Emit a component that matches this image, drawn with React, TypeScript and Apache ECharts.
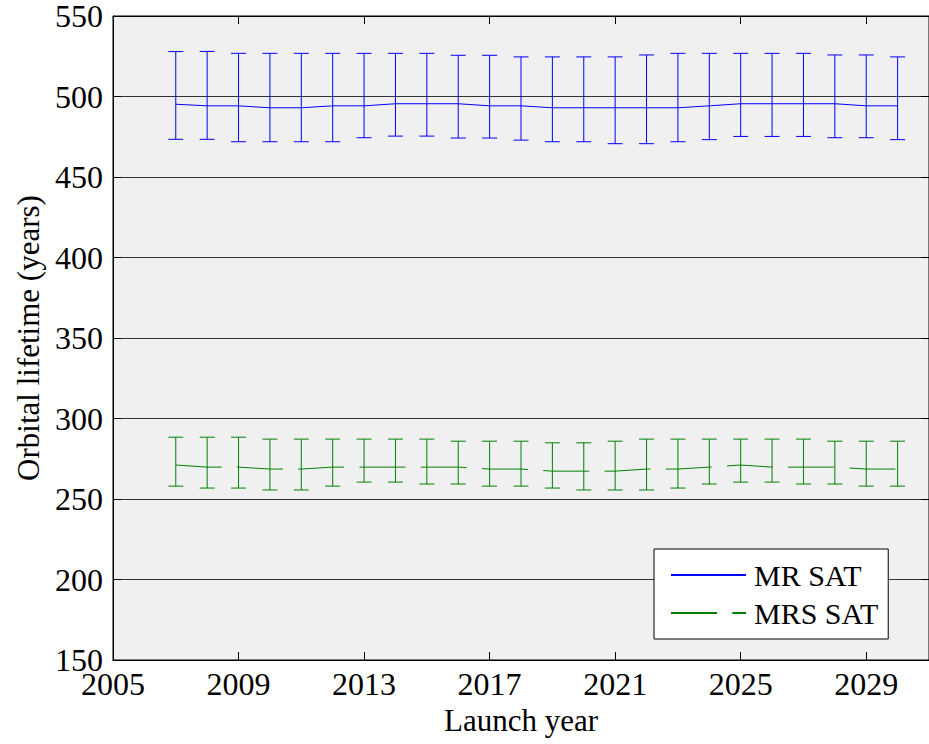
import React, { useEffect, useRef } from "react";
import * as echarts from "echarts";

const years = [2007, 2008, 2009, 2010, 2011, 2012, 2013, 2014, 2015, 2016, 2017, 2018, 2019, 2020, 2021, 2022, 2023, 2024, 2025, 2026, 2027, 2028, 2029, 2030];

const mrMean = [495.2, 494.2, 494.2, 493.0, 493.0, 494.2, 494.2, 495.5, 495.5, 495.5, 494.2, 494.2, 493.0, 493.0, 493.0, 493.0, 493.0, 494.2, 495.5, 495.5, 495.5, 495.5, 494.2, 494.2];
const mrUpper = [527.9, 528.0, 526.8, 526.8, 526.8, 526.8, 526.8, 526.8, 526.8, 525.6, 525.6, 524.6, 524.6, 524.6, 524.6, 525.8, 526.8, 526.8, 526.8, 526.8, 526.8, 525.8, 525.8, 524.6];
const mrLower = [473.4, 473.4, 471.9, 471.9, 471.9, 471.9, 474.4, 475.4, 475.4, 474.2, 474.2, 472.9, 471.9, 471.9, 470.7, 470.7, 471.9, 473.2, 475.2, 475.2, 475.2, 474.4, 474.4, 473.2];

const mrsMean = [271.1, 269.8, 269.8, 268.6, 268.6, 269.8, 269.8, 269.8, 269.8, 269.8, 268.6, 268.6, 267.3, 267.3, 267.3, 268.6, 268.6, 269.8, 271.1, 269.8, 269.8, 269.8, 268.6, 268.6];
const mrsUpper = [288.4, 288.4, 288.4, 287.2, 287.2, 287.2, 287.2, 287.2, 287.2, 285.9, 285.9, 285.9, 284.9, 284.9, 285.9, 287.2, 287.2, 287.2, 287.2, 287.2, 287.2, 285.9, 285.9, 285.9];
const mrsLower = [258.0, 256.8, 256.8, 255.6, 255.6, 258.0, 260.5, 260.5, 259.3, 259.3, 258.0, 258.0, 256.8, 255.6, 255.6, 255.6, 256.8, 259.3, 260.5, 260.5, 259.3, 259.3, 258.0, 258.0];

const xTicks = [2005, 2009, 2013, 2017, 2021, 2025, 2029];
const seriesNames = ["MR SAT", "MRS SAT"];
const xLabel = "Launch year";
const yLabel = "Orbital lifetime (years)";

const FONT = "'Liberation Serif', 'Times New Roman', 'DejaVu Serif', serif";
const BLUE = "#0000FF";
const GREEN = "#008000";

function errorSeries(name: string, lower: number[], upper: number[], color: string) {
  const data = years.map((y, i) => [y, lower[i], upper[i]]);
  return {
    type: "custom",
    name,
    xAxisIndex: 0,
    yAxisIndex: 0,
    data,
    encode: { x: 0, y: [1, 2] },
    renderItem: (params: any, api: any) => {
      const x = api.value(0);
      const lo = api.coord([x, api.value(1)]);
      const hi = api.coord([x, api.value(2)]);
      const hw = 7.5;
      const style = { stroke: color, lineWidth: 1 };
      return {
        type: "group",
        children: [
          { type: "line", shape: { x1: lo[0], y1: lo[1], x2: hi[0], y2: hi[1] }, style },
          { type: "line", shape: { x1: lo[0] - hw, y1: lo[1], x2: lo[0] + hw, y2: lo[1] }, style },
          { type: "line", shape: { x1: hi[0] - hw, y1: hi[1], x2: hi[0] + hw, y2: hi[1] }, style },
        ],
      };
    },
    silent: true,
    z: 3,
  };
}

export default function App() {
  const ref = useRef<HTMLDivElement>(null);
  useEffect(() => {
    if (!ref.current) return;
    const chart = echarts.init(ref.current, null, { renderer: "svg" });
    const axisText = { fontFamily: FONT, color: "#000" };
    const fmt = (v: number) => String(v);
    chart.setOption({
      animation: false,
      backgroundColor: "#fff",
      textStyle: { fontFamily: FONT },
      grid: {
        left: 113,
        top: 15,
        width: 817,
        height: 645,
        show: true,
        backgroundColor: "#F0F0F0",
        borderColor: "#000",
        borderWidth: 1,
      },
      legend: {
        orient: "vertical",
        left: 654,
        top: 549,
        data: seriesNames,
        itemWidth: 75,
        itemHeight: 14,
        itemGap: 6,
        padding: [10, 10, 10, 16],
        backgroundColor: "#fff",
        borderColor: "#000",
        borderWidth: 1,
        borderRadius: 0,
        itemStyle: { opacity: 0, borderWidth: 0 },
        textStyle: { fontFamily: FONT, fontSize: 30, color: "#000", lineHeight: 32, padding: [0, 0, 0, 3] },
      },
      xAxis: [
        {
          type: "value",
          min: 2005,
          max: 2031,
          position: "bottom",
          axisLine: { show: true, lineStyle: { color: "#000", width: 1 } },
          axisTick: { show: true, inside: true, length: 8, customValues: xTicks, lineStyle: { color: "#000" } },
          axisLabel: { customValues: xTicks, fontSize: 32, margin: 8, formatter: fmt, ...axisText },
          splitLine: { show: false },
          name: xLabel,
          nameLocation: "middle",
          nameGap: 44,
          nameTextStyle: { fontSize: 31, ...axisText },
        },
        {
          type: "value",
          min: 2005,
          max: 2031,
          position: "top",
          axisLine: { show: true, lineStyle: { color: "#000", width: 1 } },
          axisTick: { show: true, inside: true, length: 8, customValues: xTicks, lineStyle: { color: "#000" } },
          axisLabel: { show: false },
          splitLine: { show: false },
        },
      ],
      yAxis: [
        {
          type: "value",
          min: 150,
          max: 550,
          interval: 50,
          position: "left",
          axisLine: { show: true, lineStyle: { color: "#000", width: 1 } },
          axisTick: { show: true, inside: true, length: 8, lineStyle: { color: "#000" } },
          axisLabel: { fontSize: 32, margin: 10, formatter: fmt, ...axisText },
          splitLine: { show: true, lineStyle: { color: "#333", width: 1 } },
          name: yLabel,
          nameLocation: "middle",
          nameGap: 64,
          nameTextStyle: { fontSize: 31, ...axisText },
        },
        {
          type: "value",
          min: 150,
          max: 550,
          interval: 50,
          position: "right",
          axisLine: { show: true, lineStyle: { color: "#000", width: 1 } },
          axisTick: { show: true, inside: true, length: 8, lineStyle: { color: "#000" } },
          axisLabel: { show: false },
          splitLine: { show: false },
        },
      ],
      series: [
        {
          type: "line",
          name: seriesNames[0],
          data: years.map((y, i) => [y, mrMean[i]]),
          symbol: "none",
          color: BLUE,
          lineStyle: { color: BLUE, width: 1, type: "solid" },
          z: 4,
        },
        {
          type: "line",
          name: seriesNames[1],
          data: years.map((y, i) => [y, mrsMean[i]]),
          symbol: "none",
          color: GREEN,
          lineStyle: { color: GREEN, width: 1, type: [46, 15.3], dashOffset: 0 },
          z: 4,
        },
        errorSeries("MR SAT error", mrLower, mrUpper, BLUE),
        errorSeries("MRS SAT error", mrsLower, mrsUpper, GREEN),
      ],
    });
    return () => chart.dispose();
  }, []);
  return (
    <div
      ref={ref}
      style={{ position: "fixed", left: 0, top: 0, width: 929, height: 744 }}
    />
  );
}
